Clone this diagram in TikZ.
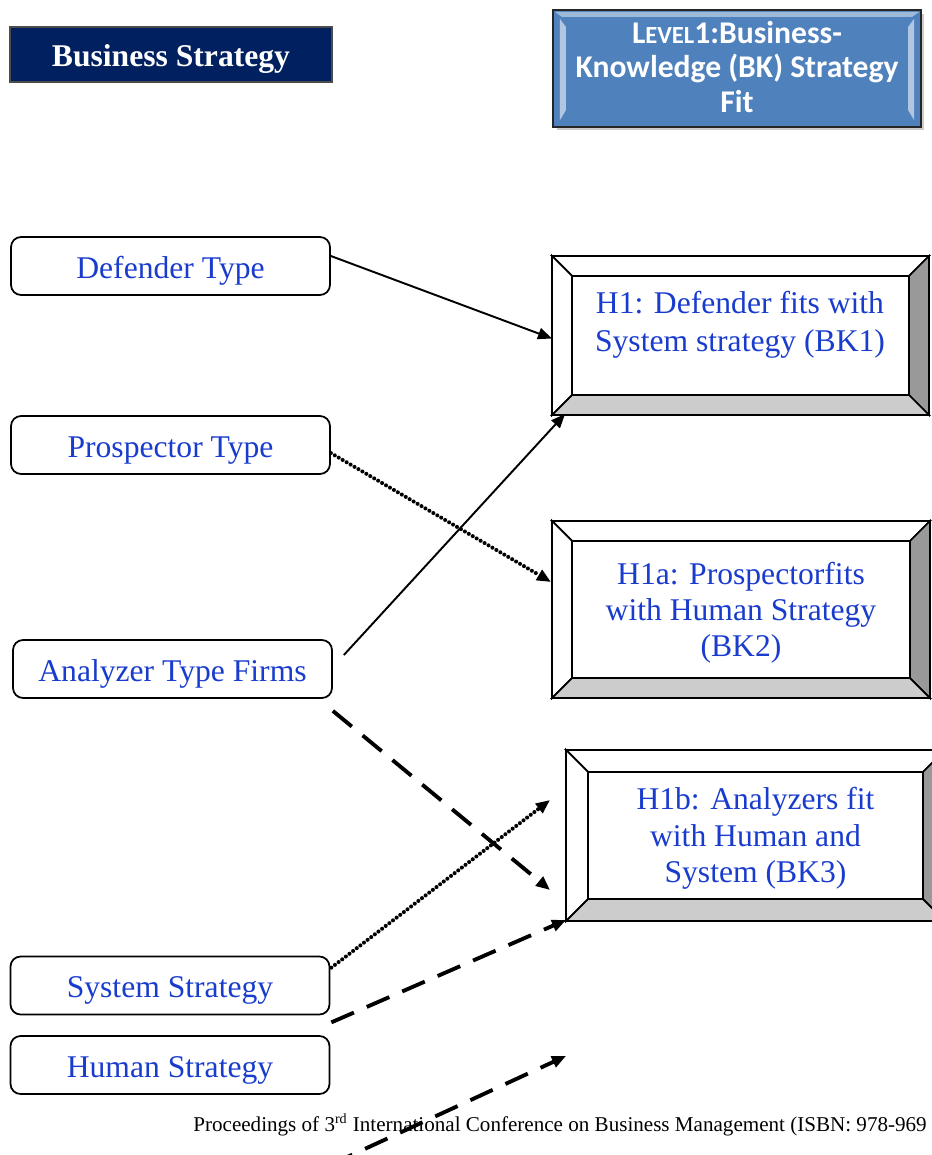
\documentclass[tikz,border=0pt]{standalone}
\usepackage{fontspec}
\setmainfont{Liberation Serif}
\newfontfamily\calfont{Carlito}
\usepackage{xcolor}
\usepackage{tikz}
\usetikzlibrary{arrows.meta,calc,shadows}

\definecolor{navyfill}{RGB}{0,32,96}
\definecolor{levelfill}{RGB}{79,129,189}
\definecolor{typeblue}{RGB}{25,60,205}

% bevel faces around a hypothesis node: #1 node, #2 depth
\newcommand{\bevelframe}[2]{%
  \filldraw[fill=white, line width=1pt, line join=miter] (#1.north west) -- ([shift={(-#2,#2)}]#1.north west) -- ([shift={(#2,#2)}]#1.north east) -- (#1.north east) -- cycle;
  \filldraw[fill=white, line width=1pt, line join=miter] (#1.north west) -- ([shift={(-#2,#2)}]#1.north west) -- ([shift={(-#2,-#2)}]#1.south west) -- (#1.south west) -- cycle;
  \filldraw[fill=black!40, line width=1pt, line join=miter] (#1.north east) -- ([shift={(#2,#2)}]#1.north east) -- ([shift={(#2,-#2)}]#1.south east) -- (#1.south east) -- cycle;
  \filldraw[fill=black!20, line width=1pt, line join=miter] (#1.south west) -- ([shift={(-#2,-#2)}]#1.south west) -- ([shift={(#2,-#2)}]#1.south east) -- (#1.south east) -- cycle;
}

\begin{document}
\begin{tikzpicture}[
    x=0.02cm, y=0.02cm,
    typenode/.style={rectangle, rounded corners=0.2cm, draw, line width=1pt, minimum width=6.38cm, minimum height=1.16cm, text height=14pt, text depth=0pt, text=typeblue, font=\fontsize{18}{21.6}\selectfont},
    hypnode/.style={rectangle, draw, line width=1pt, outer sep=0pt},
    hyptext/.style={align=center, text=typeblue, font=\fontsize{18}{21.6}\selectfont, yshift=-1.7pt},
    solidarrow/.style={-{Triangle[length=8pt,width=6.5pt]}, line width=1.1pt},
    dotarrow/.style={-{Triangle[length=8pt,width=6.5pt]}, line width=2.3pt, dash pattern=on 0pt off 2.6pt, line cap=round},
    dasharrow/.style={-{Triangle[length=8pt,width=6.5pt]}, line width=2.2pt, dash pattern=on 14pt off 8pt}
]
    \useasboundingbox (0,0) rectangle (932,-1155);
    \clip (0,0) rectangle (932,-1155);

    % Headers
    \node[rectangle, draw=black!70, line width=1pt, fill=navyfill, minimum width=6.44cm, minimum height=1.1cm, text height=14pt, text depth=0pt, text=white, font=\fontsize{18}{21.6}\selectfont\bfseries] (bs) at (171,-54.5) {Business Strategy};
    \node[rectangle, draw=black!85, line width=1.2pt, fill=levelfill, drop shadow={shadow xshift=2pt, shadow yshift=-2pt, opacity=0.4}, minimum width=7.36cm, minimum height=2.34cm] (level) at (737,-68.5) {};
    \fill[levelfill!55!white] ([shift={(3,-3)}]level.north west) -- ([shift={(-3,-3)}]level.north east) -- ([shift={(-10,-8)}]level.north east) -- ([shift={(10,-8)}]level.north west) -- cycle;
    \fill[levelfill!45!white] ([shift={(8,-10)}]level.north west) -- ([shift={(14,-18)}]level.north west) -- ([shift={(14,18)}]level.south west) -- ([shift={(8,8)}]level.south west) -- cycle;
    \fill[levelfill!45!white] ([shift={(-8,-10)}]level.north east) -- ([shift={(-14,-18)}]level.north east) -- ([shift={(-14,18)}]level.south east) -- ([shift={(-8,8)}]level.south east) -- cycle;
    \node[align=center, text=white, font=\calfont\fontsize{18}{19.6}\selectfont\bfseries] (leveltext) at ([yshift=1pt]level.center) {L{\fontsize{14}{15}\selectfont EVEL}1:Business-\\Knowledge (BK) Strategy\\Fit};

    % Business types
    \node[typenode] (def) at (170.5,-266) {Defender Type};
    \node[typenode] (pros) at (170.5,-445) {Prospector Type};
    \node[typenode] (ana) at (172.5,-669) {Analyzer Type Firms};
    \node[typenode] (sys) at (170,-985.5) {System Strategy};
    \node[typenode] (hum) at (170,-1065) {Human Strategy};

    % Hypotheses
    \node[hypnode, minimum width=6.74cm, minimum height=2.38cm] (h1) at (740.5,-335.5) {};
    \bevelframe{h1}{20}
    \node[hyptext] (h1text) at (740,-322) {H1: Defender fits with\\System strategy (BK1)};
    \node[hypnode, minimum width=6.76cm, minimum height=2.74cm] (h1a) at (741,-609.5) {};
    \bevelframe{h1a}{20}
    \node[hyptext, font=\fontsize{18}{20.5}\selectfont] (h1atext) at (h1a.center) {H1a: Prospectorfits\\with Human Strategy\\(BK2)};
    \node[hypnode, minimum width=6.7cm, minimum height=2.54cm] (h1b) at (755.5,-835.5) {};
    \bevelframe{h1b}{22}
    \node[hyptext, font=\fontsize{18}{20.8}\selectfont] (h1btext) at (h1b.center) {H1b: Analyzers fit\\with Human and\\System (BK3)};

    % Links
    \draw[solidarrow] ([shift={(0,10)}]def.east) -- ([shift={(-20,-3)}]h1.west);
    \draw[dotarrow] ([shift={(0,-8)}]pros.east) -- ([shift={(-21,27.5)}]h1a.west);
    \draw[solidarrow] ([shift={(11,14)}]ana.east) -- ([shift={(-7,-19)}]h1.south west);
    \draw[dasharrow] ([shift={(0,-12)}]ana.south east) -- ([shift={(-38,-54.5)}]h1b.west);
    \draw[dotarrow] ([shift={(1,-12)}]sys.north east) -- ([shift={(-38,35.5)}]h1b.west);
    \draw[dasharrow] ([shift={(1,-7)}]sys.south east) -- ([shift={(-22,-21)}]h1b.south west);
    \coordinate (loosestart) at (330,-1165);
    \coordinate (looseend) at (566,-1056);
    \draw[dasharrow] (loosestart) -- (looseend);

    % Footer
    \node[anchor=base west, inner sep=0pt, font=\fontsize{12}{14}\selectfont] (footer) at (193,-1131) {Proceedings of 3\textsuperscript{rd} International Conference on Business Management (ISBN: 978-969};
\end{tikzpicture}
\end{document}
